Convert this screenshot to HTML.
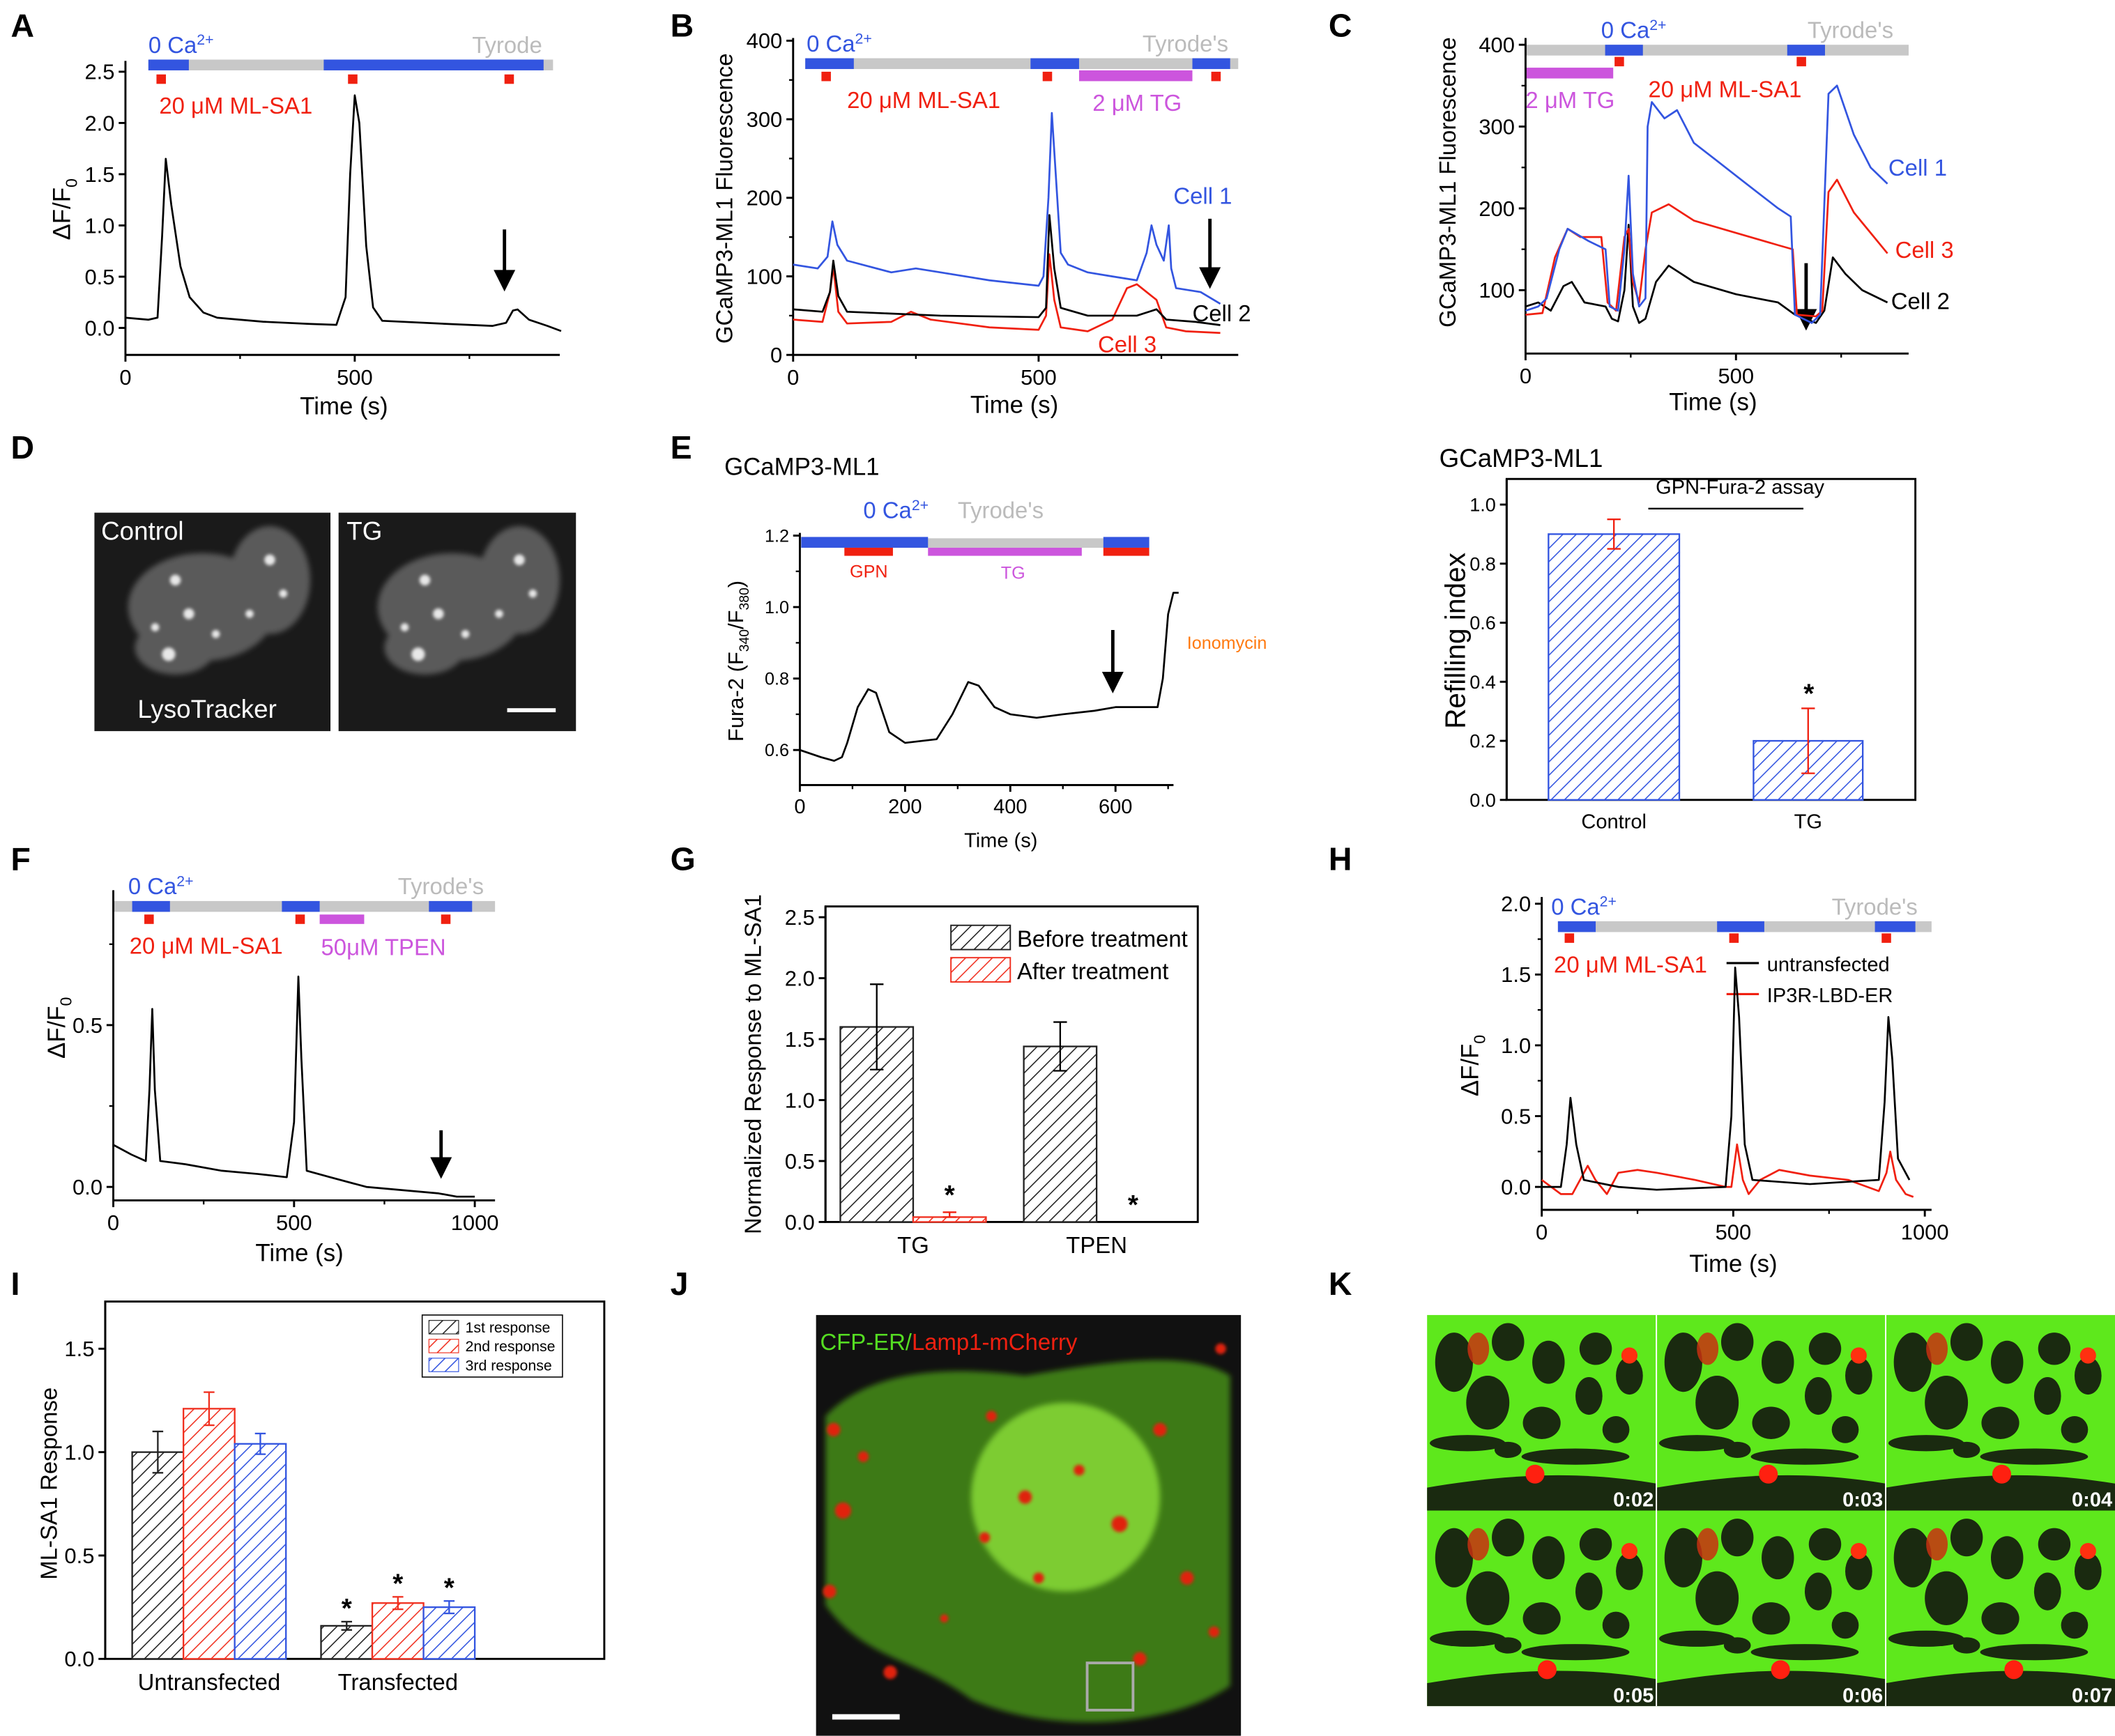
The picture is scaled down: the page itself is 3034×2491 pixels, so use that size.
<!DOCTYPE html>
<html><head><meta charset="utf-8"><style>
html,body{margin:0;padding:0;background:#fff;}
svg{display:block;font-family:"Liberation Sans",Arial,sans-serif;}
</style></head><body>
<svg id="fig" xmlns="http://www.w3.org/2000/svg" width="3034" height="2491" viewBox="0 0 1568 1287">
<defs>
<pattern id="hk" patternUnits="userSpaceOnUse" width="7" height="7" patternTransform="rotate(45)"><rect width="7" height="7" fill="#fff"/><line x1="0" y1="0" x2="0" y2="7" stroke="#222" stroke-width="1.6"/></pattern>
<pattern id="hr" patternUnits="userSpaceOnUse" width="7" height="7" patternTransform="rotate(45)"><rect width="7" height="7" fill="#fff"/><line x1="0" y1="0" x2="0" y2="7" stroke="#f03020" stroke-width="1.6"/></pattern>
<pattern id="hb" patternUnits="userSpaceOnUse" width="7" height="7" patternTransform="rotate(45)"><rect width="7" height="7" fill="#fff"/><line x1="0" y1="0" x2="0" y2="7" stroke="#3355e0" stroke-width="1.6"/></pattern>
<filter id="blur2"><feGaussianBlur stdDeviation="2"/></filter>
<filter id="blur1"><feGaussianBlur stdDeviation="1.2"/></filter>
</defs>
<g font-weight="bold" font-size="24" fill="#000">
<text x="8" y="27">A</text><text x="497" y="27">B</text><text x="985" y="27">C</text>
<text x="8" y="340">D</text><text x="497" y="340">E</text>
<text x="8" y="645">F</text><text x="497" y="645">G</text><text x="985" y="645">H</text>
<text x="8" y="960">I</text><text x="497" y="960">J</text><text x="985" y="960">K</text>
</g>

<g>
<rect x="110" y="44" width="300" height="8" fill="#c8c8c8"/>
<rect x="110" y="44" width="30" height="8" fill="#3355e0"/>
<rect x="240" y="44" width="163" height="8" fill="#3355e0"/>
<rect x="116" y="55" width="7" height="7" fill="#f02010"/><rect x="258" y="55" width="7" height="7" fill="#f02010"/><rect x="374" y="55" width="7" height="7" fill="#f02010"/>
<text x="110" y="39" font-size="17" fill="#3355e0">0 Ca<tspan font-size="11" dy="-6">2+</tspan></text>
<text x="350" y="39" font-size="17" fill="#bbb">Tyrode</text>
<text x="118" y="84" font-size="17" fill="#f02010">20 μM ML-SA1</text>
<line x1="374" y1="170" x2="374" y2="207" stroke="#000" stroke-width="2.5"/><polygon points="366,200 382,200 374,216" fill="#000"/>
<text x="255" y="307" font-size="18" text-anchor="middle">Time (s)</text>
<text transform="translate(52,155) rotate(-90)" font-size="18" text-anchor="middle">ΔF/F<tspan font-size="12" dy="5">0</tspan></text>
</g>

<g>
<rect x="597" y="43" width="321" height="8" fill="#c8c8c8"/>
<rect x="597" y="43" width="36" height="8" fill="#3355e0"/><rect x="764" y="43" width="36" height="8" fill="#3355e0"/><rect x="884" y="43" width="28" height="8" fill="#3355e0"/>
<rect x="800" y="52" width="84" height="8" fill="#cc55dd"/>
<rect x="609" y="53" width="7" height="7" fill="#f02010"/><rect x="773" y="53" width="7" height="7" fill="#f02010"/><rect x="898" y="53" width="7" height="7" fill="#f02010"/>
<text x="598" y="38" font-size="17" fill="#3355e0">0 Ca<tspan font-size="11" dy="-6">2+</tspan></text>
<text x="847" y="38" font-size="17" fill="#bbb">Tyrode's</text>
<text x="628" y="80" font-size="17" fill="#f02010">20 μM ML-SA1</text>
<text x="810" y="82" font-size="17" fill="#cc55dd">2 μM TG</text>
<text x="870" y="151" font-size="17" fill="#3355e0">Cell 1</text>
<text x="884" y="238" font-size="17" fill="#000">Cell 2</text>
<text x="814" y="261" font-size="17" fill="#f02010">Cell 3</text>
<line x1="897" y1="162" x2="897" y2="205" stroke="#000" stroke-width="2.5"/><polygon points="889,198 905,198 897,214" fill="#000"/>
<text x="752" y="306" font-size="18" text-anchor="middle">Time (s)</text>
<text transform="translate(543,147) rotate(-90)" font-size="17" text-anchor="middle">GCaMP3-ML1 Fluorescence</text>
</g>

<g>
<rect x="1131" y="33" width="284" height="8" fill="#c8c8c8"/>
<rect x="1190" y="33" width="28" height="8" fill="#3355e0"/><rect x="1325" y="33" width="28" height="8" fill="#3355e0"/>
<rect x="1131" y="50" width="65" height="8" fill="#cc55dd"/>
<rect x="1197" y="42" width="7" height="7" fill="#f02010"/><rect x="1332" y="42" width="7" height="7" fill="#f02010"/>
<text x="1187" y="28" font-size="17" fill="#3355e0">0 Ca<tspan font-size="11" dy="-6">2+</tspan></text>
<text x="1340" y="28" font-size="17" fill="#bbb">Tyrode's</text>
<text x="1131" y="80" font-size="17" fill="#cc55dd">2 μM TG</text>
<text x="1222" y="72" font-size="17" fill="#f02010">20 μM ML-SA1</text>
<text x="1400" y="130" font-size="17" fill="#3355e0">Cell 1</text>
<text x="1405" y="191" font-size="17" fill="#f02010">Cell 3</text>
<text x="1402" y="229" font-size="17" fill="#000">Cell 2</text>
<line x1="1339" y1="195" x2="1339" y2="236" stroke="#000" stroke-width="2.5"/><polygon points="1331,229 1347,229 1339,245" fill="#000"/>
<text x="1270" y="304" font-size="18" text-anchor="middle">Time (s)</text>
<text transform="translate(1079,135) rotate(-90)" font-size="17" text-anchor="middle">GCaMP3-ML1 Fluorescence</text>
</g>

<g>
<rect x="70" y="380" width="175" height="162" fill="#1a1a1a"/>
<rect x="251" y="380" width="176" height="162" fill="#1a1a1a"/>
<g filter="url(#blur2)" fill="#5a5a5a">
<ellipse cx="150" cy="450" rx="55" ry="40"/><ellipse cx="200" cy="430" rx="30" ry="40"/><ellipse cx="130" cy="480" rx="30" ry="20"/>
<ellipse cx="335" cy="450" rx="55" ry="40"/><ellipse cx="385" cy="430" rx="30" ry="40"/><ellipse cx="315" cy="480" rx="30" ry="20"/>
</g>
<g fill="#e8e8e8" filter="url(#blur1)">
<circle cx="130" cy="430" r="4"/><circle cx="140" cy="455" r="4"/><circle cx="125" cy="485" r="5"/><circle cx="200" cy="415" r="4"/><circle cx="210" cy="440" r="3"/><circle cx="160" cy="470" r="3"/><circle cx="115" cy="465" r="3"/><circle cx="185" cy="455" r="3"/>
<circle cx="315" cy="430" r="4"/><circle cx="325" cy="455" r="4"/><circle cx="310" cy="485" r="5"/><circle cx="385" cy="415" r="4"/><circle cx="395" cy="440" r="3"/><circle cx="345" cy="470" r="3"/><circle cx="300" cy="465" r="3"/><circle cx="370" cy="455" r="3"/>
</g>
<text x="75" y="400" font-size="19" fill="#fff">Control</text>
<text x="257" y="400" font-size="19" fill="#fff">TG</text>
<text x="102" y="532" font-size="19" fill="#fff">LysoTracker</text>
<rect x="376" y="525" width="36" height="3" fill="#fff"/>
</g>

<g>
<text x="537" y="352" font-size="18">GCaMP3-ML1</text>
<rect x="594" y="399" width="258" height="7" fill="#c8c8c8"/>
<rect x="594" y="398" width="94" height="8" fill="#3355e0"/><rect x="818" y="398" width="34" height="8" fill="#3355e0"/>
<rect x="626" y="406" width="36" height="6" fill="#f02010"/><rect x="818" y="406" width="34" height="6" fill="#f02010"/>
<rect x="688" y="406" width="114" height="6" fill="#cc55dd"/>
<text x="640" y="384" font-size="17" fill="#3355e0">0 Ca<tspan font-size="11" dy="-6">2+</tspan></text>
<text x="710" y="384" font-size="17" fill="#bbb">Tyrode's</text>
<text x="630" y="428" font-size="13" fill="#f02010">GPN</text>
<text x="742" y="429" font-size="13" fill="#cc55dd">TG</text>
<text x="880" y="481" font-size="13" fill="#ff7a10">Ionomycin</text>
<line x1="825" y1="467" x2="825" y2="505" stroke="#000" stroke-width="2.5"/><polygon points="817,498 833,498 825,514" fill="#000"/>
<text x="742" y="628" font-size="15" text-anchor="middle">Time (s)</text>
<text transform="translate(551,490) rotate(-90)" font-size="16" text-anchor="middle">Fura-2 (F<tspan font-size="10" dy="4">340</tspan><tspan dy="-4">/F</tspan><tspan font-size="10" dy="4">380</tspan><tspan dy="-4">)</tspan></text>
</g>

<g>
<text x="1067" y="346" font-size="19">GCaMP3-ML1</text>
<text x="1290" y="366" font-size="15" text-anchor="middle">GPN-Fura-2 assay</text>
<line x1="1222" y1="377" x2="1337" y2="377" stroke="#000" stroke-width="1.2"/>
<text transform="translate(1086,475) rotate(-90)" font-size="21" text-anchor="middle">Refilling index</text>
</g>

<g>
<rect x="84" y="668" width="283" height="8" fill="#c8c8c8"/>
<rect x="98" y="668" width="28" height="8" fill="#3355e0"/><rect x="209" y="668" width="28" height="8" fill="#3355e0"/><rect x="318" y="668" width="32" height="8" fill="#3355e0"/>
<rect x="107" y="678" width="7" height="7" fill="#f02010"/><rect x="219" y="678" width="7" height="7" fill="#f02010"/><rect x="327" y="678" width="7" height="7" fill="#f02010"/>
<rect x="237" y="678" width="33" height="7" fill="#cc55dd"/>
<text x="95" y="663" font-size="17" fill="#3355e0">0 Ca<tspan font-size="11" dy="-6">2+</tspan></text>
<text x="295" y="663" font-size="17" fill="#bbb">Tyrode's</text>
<text x="96" y="707" font-size="17" fill="#f02010">20 μM ML-SA1</text>
<text x="238" y="708" font-size="17" fill="#cc55dd">50μM TPEN</text>
<line x1="327" y1="838" x2="327" y2="865" stroke="#000" stroke-width="2.5"/><polygon points="319,858 335,858 327,874" fill="#000"/>
<text x="222" y="935" font-size="18" text-anchor="middle">Time (s)</text>
<text transform="translate(48,762) rotate(-90)" font-size="18" text-anchor="middle">ΔF/F<tspan font-size="12" dy="5">0</tspan></text>
</g>

<g>
<rect x="705" y="686" width="44" height="18" fill="url(#hk)" stroke="#222"/>
<rect x="705" y="710" width="44" height="18" fill="url(#hr)" stroke="#f03020"/>
<text x="754" y="702" font-size="17">Before treatment</text>
<text x="754" y="726" font-size="17">After treatment</text>
<text transform="translate(564,789) rotate(-90)" font-size="17" text-anchor="middle">Normalized Response to ML-SA1</text>
</g>

<g>
<rect x="1155" y="683" width="277" height="8" fill="#c8c8c8"/>
<rect x="1155" y="683" width="28" height="8" fill="#3355e0"/><rect x="1273" y="683" width="35" height="8" fill="#3355e0"/><rect x="1390" y="683" width="30" height="8" fill="#3355e0"/>
<rect x="1160" y="692" width="7" height="7" fill="#f02010"/><rect x="1282" y="692" width="7" height="7" fill="#f02010"/><rect x="1395" y="692" width="7" height="7" fill="#f02010"/>
<text x="1150" y="678" font-size="17" fill="#3355e0">0 Ca<tspan font-size="11" dy="-6">2+</tspan></text>
<text x="1358" y="678" font-size="17" fill="#bbb">Tyrode's</text>
<text x="1152" y="721" font-size="17" fill="#f02010">20 μM ML-SA1</text>
<line x1="1280" y1="714" x2="1304" y2="714" stroke="#000" stroke-width="1.6"/>
<text x="1310" y="720" font-size="15">untransfected</text>
<line x1="1280" y1="737" x2="1304" y2="737" stroke="#f02010" stroke-width="1.6"/>
<text x="1310" y="743" font-size="15">IP3R-LBD-ER</text>
<text x="1285" y="943" font-size="18" text-anchor="middle">Time (s)</text>
<text transform="translate(1096,790) rotate(-90)" font-size="18" text-anchor="middle">ΔF/F<tspan font-size="12" dy="5">0</tspan></text>
</g>

<g>
<rect x="313" y="975" width="104" height="46" fill="#fff" stroke="#000" stroke-width="0.8"/>
<rect x="318" y="979" width="22" height="10" fill="url(#hk)" stroke="#222" stroke-width="0.6"/>
<rect x="318" y="993" width="22" height="10" fill="url(#hr)" stroke="#f03020" stroke-width="0.6"/>
<rect x="318" y="1007" width="22" height="10" fill="url(#hb)" stroke="#3355e0" stroke-width="0.6"/>
<text x="345" y="988" font-size="11">1st response</text>
<text x="345" y="1002" font-size="11">2nd response</text>
<text x="345" y="1016" font-size="11">3rd response</text>
<text transform="translate(42,1100) rotate(-90)" font-size="17" text-anchor="middle">ML-SA1 Response</text>
</g>

<g>
<rect x="605" y="975" width="315" height="312" fill="#111"/>
<path d="M612,1050 C650,1010 720,1015 760,1020 C820,1010 880,1000 912,1020 L912,1250 C870,1280 780,1287 720,1260 C680,1230 640,1230 612,1190 Z" fill="#3d7a18" filter="url(#blur2)"/>
<ellipse cx="790" cy="1110" rx="70" ry="70" fill="#7dcc30" filter="url(#blur2)"/>
<g fill="#e02010" filter="url(#blur1)">
<circle cx="618" cy="1060" r="5"/><circle cx="625" cy="1120" r="6"/><circle cx="615" cy="1180" r="5"/><circle cx="640" cy="1080" r="4"/><circle cx="660" cy="1240" r="5"/><circle cx="735" cy="1050" r="4"/><circle cx="760" cy="1110" r="5"/><circle cx="800" cy="1090" r="4"/><circle cx="830" cy="1130" r="6"/><circle cx="860" cy="1060" r="5"/><circle cx="880" cy="1170" r="5"/><circle cx="900" cy="1210" r="4"/><circle cx="770" cy="1170" r="4"/><circle cx="730" cy="1140" r="4"/><circle cx="845" cy="1230" r="5"/><circle cx="700" cy="1200" r="3"/><circle cx="905" cy="1000" r="4"/>
</g>
<text x="608" y="1001" font-size="17" fill="#55dd22">CFP-ER/<tspan fill="#f02010">Lamp1-mCherry</tspan></text>
<rect x="617" y="1271" width="50" height="4" fill="#fff"/>
<rect x="806" y="1233" width="34" height="35" fill="none" stroke="#aaa" stroke-width="2"/>
</g>

<g id="ktiles"></g>

<g id="charts"></g>
</svg>
<script>
const aTime=[0,50,70,80,88,100,120,140,170,200,300,400,460,480,490,500,510,525,540,560,700,800,830,845,855,880,920,950];
const aVal=[0.1,0.08,0.1,0.9,1.65,1.2,0.6,0.3,0.15,0.1,0.06,0.04,0.03,0.3,1.5,2.27,2.0,0.8,0.2,0.07,0.04,0.02,0.05,0.17,0.18,0.08,0.02,-0.03];

const bCell1Time=[0,50,70,80,90,110,200,250,300,400,500,510,520,527,535,545,560,600,650,700,720,730,740,755,765,770,780,830,870];
const bCell1Val=[115,110,125,170,140,120,105,110,105,95,88,100,200,308,230,130,115,105,100,95,130,165,140,120,165,110,85,80,65];
const bCell2Time=[0,60,75,82,92,110,300,500,515,522,532,545,600,700,740,760,820,870];
const bCell2Val=[58,55,80,120,75,55,50,48,60,178,110,60,50,50,58,45,42,38];
const bCell3Time=[0,60,75,82,92,110,200,240,280,400,500,515,522,532,545,600,650,680,700,740,760,800,870];
const bCell3Val=[45,42,80,112,55,40,42,55,45,35,32,50,128,70,35,30,45,85,90,70,35,30,28];

const cCell1Time=[0,30,50,80,100,150,190,200,220,235,245,255,270,285,290,300,330,360,400,450,500,550,600,630,640,680,700,720,740,780,820,860];
const cCell1Val=[75,80,90,150,175,160,150,80,75,150,240,120,80,90,300,330,310,320,280,260,240,220,200,190,70,60,70,340,350,290,250,230];
const cCell3Time=[0,40,70,100,130,180,195,215,235,245,255,270,285,300,340,400,500,600,635,645,690,705,720,740,780,820,860];
const cCell3Val=[70,72,140,175,165,165,85,75,165,175,110,85,150,195,205,185,170,155,150,70,68,75,220,235,195,170,145];
const cCell2Time=[0,30,60,90,110,140,190,205,220,235,245,255,270,285,310,340,400,500,600,640,690,710,730,760,800,860];
const cCell2Val=[80,85,75,105,110,85,80,65,62,100,180,80,60,65,110,130,110,95,85,70,60,75,140,120,100,85];

const eTime=[0,40,65,80,90,110,130,145,170,200,260,290,320,340,370,400,450,500,560,600,680,690,700,710,720];
const eVal=[0.6,0.58,0.57,0.58,0.62,0.72,0.77,0.76,0.65,0.62,0.63,0.7,0.79,0.78,0.72,0.70,0.69,0.70,0.71,0.72,0.72,0.8,0.98,1.04,1.04];

const refillCats=['Control','TG'];
const refillVals=[0.9,0.2];
const refillErr=[0.05,0.11];

const fTime=[0,50,90,100,108,115,130,200,300,400,480,500,512,520,535,600,700,800,900,950,1000];
const fVal=[0.13,0.1,0.08,0.3,0.55,0.3,0.08,0.07,0.05,0.04,0.03,0.2,0.65,0.4,0.05,0.03,0.0,-0.01,-0.02,-0.03,-0.03];

const gCats=['TG','TPEN'];
const gBefore=[1.6,1.44];
const gBeforeErr=[0.35,0.2];
const gAfter=[0.04,0.0];
const gAfterErr=[0.04,0.0];

const hUntrTime=[0,50,65,75,90,110,200,300,480,495,505,515,530,550,700,880,895,905,915,930,960];
const hUntrVal=[0.0,0.0,0.3,0.63,0.3,0.05,0.0,-0.02,0.0,0.5,1.55,1.2,0.3,0.05,0.02,0.05,0.6,1.2,0.9,0.2,0.05];
const hIp3Time=[0,50,80,120,140,170,200,250,300,400,480,495,510,525,540,570,620,700,800,880,900,910,925,950,970];
const hIp3Val=[0.05,-0.05,-0.05,0.15,0.05,-0.05,0.1,0.12,0.1,0.05,0.0,0.0,0.3,0.05,-0.05,0.05,0.12,0.08,0.05,-0.03,0.1,0.25,0.05,-0.05,-0.07];

const iCats=['Untransfected','Transfected'];
const iFirst=[1.0,0.16];
const iSecond=[1.21,0.27];
const iThird=[1.04,0.25];
const iFirstErr=[0.1,0.02];
const iSecondErr=[0.08,0.03];
const iThirdErr=[0.05,0.03];

const NS='http://www.w3.org/2000/svg';
const root=document.getElementById('charts');
function mk(tag,attrs,parent){const e=document.createElementNS(NS,tag);for(const k in attrs)e.setAttribute(k,attrs[k]);(parent||root).appendChild(e);return e;}
function lin(d0,d1,r0,r1){return v=>r0+(v-d0)*(r1-r0)/(d1-d0);}
function trace(times,vals,sx,sy,color,name){
  const d=times.map((t,i)=>(i?'L':'M')+sx(t).toFixed(1)+','+sy(vals[i]).toFixed(1)).join('');
  const p=mk('path',{d:d,fill:'none',stroke:color,'stroke-width':1.4,'stroke-linejoin':'round'});
  
  
}
function yAxis(x,y0,y1,ticks,sy,fs,name,minor){
  const g=mk('g',{});
  
  
  mk('line',{x1:x,y1:y0,x2:x,y2:y1,stroke:'#000','stroke-width':1.5},g);
  ticks.forEach(t=>{const y=sy(t.v);mk('line',{x1:x-5,y1:y,x2:x,y2:y,stroke:'#000','stroke-width':1.5},g);
    const tx=mk('text',{x:x-8,y:y+fs*0.35,'font-size':fs,'text-anchor':'end'},g);tx.textContent=t.l;});
  (minor||[]).forEach(v=>{const y=sy(v);mk('line',{x1:x-3,y1:y,x2:x,y2:y,stroke:'#000','stroke-width':1.2},g);});
}
function xAxis(y,x0,x1,ticks,sx,fs,name,minor){
  const g=mk('g',{});
  
  
  mk('line',{x1:x0,y1:y,x2:x1,y2:y,stroke:'#000','stroke-width':1.5},g);
  ticks.forEach(t=>{const x=sx(t.v);mk('line',{x1:x,y1:y,x2:x,y2:y+5,stroke:'#000','stroke-width':1.5},g);
    const tx=mk('text',{x:x,y:y+6+fs,'font-size':fs,'text-anchor':'middle'},g);tx.textContent=t.l;});
  (minor||[]).forEach(v=>{const x=sx(v);mk('line',{x1:x,y1:y,x2:x,y2:y+3,stroke:'#000','stroke-width':1.2},g);});
}
function tk(arr,dec){return arr.map(v=>({v:v,l:v.toFixed(dec)}));}
function errBar(x,y0,y1,color,w){const g=mk('g',{stroke:color,'stroke-width':1.2});
  
  
  mk('line',{x1:x,y1:y0,x2:x,y2:y1},g);mk('line',{x1:x-w,y1:y0,x2:x+w,y2:y0},g);mk('line',{x1:x-w,y1:y1,x2:x+w,y2:y1},g);}
function bar(x,w,y0,y1,fill,stroke,name){const r=mk('rect',{x:x,y:Math.min(y0,y1),width:w,height:Math.abs(y1-y0),fill:fill,stroke:stroke,'stroke-width':1.2});
  
  }
function star(x,y){const s=mk('text',{x:x,y:y,'font-size':20,'text-anchor':'middle','font-weight':'bold'});s.textContent='*';
  
  }

{const sx=lin(0,500,93,263),sy=lin(0,2.5,243,53);
 yAxis(93,45,263,tk([0,0.5,1,1.5,2,2.5],1),sy,16,'panel-a-y-axis');
 xAxis(263,93,415,[{v:0,l:'0'},{v:500,l:'500'}],sx,16,'panel-a-x-axis',[250,750]);
 trace(aTime,aVal,sx,sy,'#000','panel-a-trace');}
{const sx=lin(0,500,588,770),sy=lin(0,400,263,30);
 yAxis(588,28,263,tk([0,100,200,300,400],0),sy,16,'panel-b-y-axis',[50,150,250,350]);
 xAxis(263,588,918,[{v:0,l:'0'},{v:500,l:'500'}],sx,16,'panel-b-x-axis',[250,750]);
 trace(bCell3Time,bCell3Val,sx,sy,'#f02010','panel-b-cell3');
 trace(bCell2Time,bCell2Val,sx,sy,'#000','panel-b-cell2');
 trace(bCell1Time,bCell1Val,sx,sy,'#3355e0','panel-b-cell1');}
{const sx=lin(0,500,1131,1287),sy=lin(100,400,215,33);
 yAxis(1131,28,262,tk([100,200,300,400],0),sy,16,'panel-c-y-axis',[150,250,350]);
 xAxis(262,1131,1415,[{v:0,l:'0'},{v:500,l:'500'}],sx,16,'panel-c-x-axis',[250,750]);
 trace(cCell2Time,cCell2Val,sx,sy,'#000','panel-c-cell2');
 trace(cCell3Time,cCell3Val,sx,sy,'#f02010','panel-c-cell3');
 trace(cCell1Time,cCell1Val,sx,sy,'#3355e0','panel-c-cell1');}
{const sx=lin(0,200,593,671),sy=lin(0.6,0.8,556,503);
 yAxis(593,395,582,[{v:0.6,l:'0.6'},{v:0.8,l:'0.8'},{v:1.0,l:'1.0'},{v:1.2,l:'1.2'}],sy,13,'panel-e-y-axis',[0.7,0.9,1.1]);
 xAxis(582,593,870,[{v:0,l:'0'},{v:200,l:'200'},{v:400,l:'400'},{v:600,l:'600'}],sx,15,'panel-e-x-axis',[100,300,500,700]);
 trace(eTime,eVal,sx,sy,'#000','panel-e-trace');}
{const sy=lin(0,1,593,374);
 const bx=[1148,1300],bw=[97,81];
 mk('rect',{x:1117,y:355,width:303,height:238,fill:'none',stroke:'#000','stroke-width':1.5});
 yAxis(1117,355,593,tk([0,0.2,0.4,0.6,0.8,1.0],1),sy,14,'refill-y-axis');
 refillVals.forEach((v,i)=>{
   bar(bx[i],bw[i],sy(0),sy(v),'url(#hb)','#3355e0','refill-bar-'+refillCats[i].toLowerCase());
   errBar(bx[i]+bw[i]/2,sy(v+refillErr[i]),sy(v-refillErr[i]),'#f02010',5);
   const t=mk('text',{x:bx[i]+bw[i]/2,y:614,'font-size':15,'text-anchor':'middle'});t.textContent=refillCats[i];
   
   
 });
 star(1341,sy(refillVals[1]+refillErr[1])-4);}
{const sx=lin(0,500,84,218),sy=lin(0,0.5,880,760);
 yAxis(84,660,890,tk([0,0.5],1),sy,16,'panel-f-y-axis',[0.25,0.75]);
 xAxis(890,84,367,[{v:0,l:'0'},{v:500,l:'500'},{v:1000,l:'1000'}],sx,16,'panel-f-x-axis',[250,750]);
 trace(fTime,fVal,sx,sy,'#000','panel-f-trace');}
{const sy=lin(0,2.5,906,680);
 mk('rect',{x:612,y:672,width:276,height:234,fill:'none',stroke:'#000','stroke-width':1.5});
 yAxis(612,672,906,tk([0,0.5,1,1.5,2,2.5],1),sy,16,'panel-g-y-axis');
 const gx=[623,759],w=54;
 gCats.forEach((c,i)=>{
   bar(gx[i],w,sy(0),sy(gBefore[i]),'url(#hk)','#222','bar-before-'+c.toLowerCase());
   errBar(gx[i]+w/2,sy(gBefore[i]+gBeforeErr[i]),sy(gBefore[i]-gBeforeErr[i]),'#000',5);
   bar(gx[i]+w,w,sy(0),sy(gAfter[i]),'url(#hr)','#f03020','bar-after-'+c.toLowerCase());
   if(gAfterErr[i]>0)errBar(gx[i]+1.5*w,sy(gAfter[i]+gAfterErr[i]),sy(gAfter[i]),'#f02010',5);
   star(gx[i]+1.5*w,sy(gAfter[i]+gAfterErr[i])-6);
   const t=mk('text',{x:gx[i]+w,y:929,'font-size':17,'text-anchor':'middle'});t.textContent=c;
   
   
 });}
{const sx=lin(0,500,1143,1285),sy=lin(0,2,880,670);
 yAxis(1143,665,897,tk([0,0.5,1,1.5,2],1),sy,16,'panel-h-y-axis',[0.25,0.75,1.25,1.75]);
 xAxis(897,1143,1432,[{v:0,l:'0'},{v:500,l:'500'},{v:1000,l:'1000'}],sx,16,'panel-h-x-axis',[250,750]);
 trace(hIp3Time,hIp3Val,sx,sy,'#f02010','panel-h-ip3r-trace');
 trace(hUntrTime,hUntrVal,sx,sy,'#000','panel-h-untransfected-trace');}
{const sy=lin(0,1.5,1230,1000);
 mk('rect',{x:78,y:965,width:370,height:265,fill:'none',stroke:'#000','stroke-width':1.5});
 yAxis(78,965,1230,tk([0,0.5,1,1.5],1),sy,16,'panel-i-y-axis');
 const gx=[98,238],w=38;
 const series=[[iFirst,iFirstErr,'url(#hk)','#222','first'],[iSecond,iSecondErr,'url(#hr)','#f03020','second'],[iThird,iThirdErr,'url(#hb)','#3355e0','third']];
 iCats.forEach((c,i)=>{
   series.forEach((s,j)=>{
     const v=s[0][i],e=s[1][i],x=gx[i]+j*w;
     bar(x,w,sy(0),sy(v),s[2],s[3],'bar-'+s[4]+'-'+c.toLowerCase());
     errBar(x+w/2,sy(v+e),sy(v-e),s[3],4);
     if(i===1)star(x+w/2,sy(v+e)-3);
   });
   const t=mk('text',{x:gx[i]+1.5*w,y:1253,'font-size':17,'text-anchor':'middle'});t.textContent=c;
   
   
 });}
{const kg=document.getElementById('ktiles');
 const labels=['0:02','0:03','0:04','0:05','0:06','0:07'];
 labels.forEach((lab,i)=>{
   const x=1058+(i%3)*170,y=975+Math.floor(i/3)*145;
   const g=mk('g',{},kg);
   
   
   mk('rect',{x:x,y:y,width:170,height:145,fill:'#5ee81c'},g);
   const holes=[[20,35,14,22],[60,20,12,14],[45,65,16,20],[90,35,12,16],[85,80,14,12],[125,25,12,12],[120,60,10,14],[150,45,10,14],[30,95,28,6],[110,105,40,6],[140,85,10,10],[60,100,10,6]];
   holes.forEach(h=>mk('ellipse',{cx:x+h[0],cy:y+h[1],rx:h[2],ry:h[3],fill:'#1a2a10'},g));
   mk('path',{d:`M${x},${y+145} L${x},${y+128} C${x+60},${y+118} ${x+110},${y+115} ${x+170},${y+125} L${x+170},${y+145} Z`,fill:'#1a2a10'},g);
   mk('ellipse',{cx:x+38,cy:y+25,rx:8,ry:12,fill:'#c83010',opacity:0.85},g);
   mk('circle',{cx:x+150,cy:y+30,r:6,fill:'#ff3010'},g);
   mk('circle',{cx:x+80+i*3,cy:y+118,r:7,fill:'#ff2010'},g);
   const t=mk('text',{x:x+168,y:y+142,'font-size':15,'font-weight':'bold',fill:'#fff','text-anchor':'end'},g);
   t.textContent=lab;
 });
 mk('line',{x1:1228,y1:975,x2:1228,y2:1265,stroke:'#fff','stroke-width':1},kg);
 mk('line',{x1:1398,y1:975,x2:1398,y2:1265,stroke:'#fff','stroke-width':1},kg);}
</script>
</body></html>
